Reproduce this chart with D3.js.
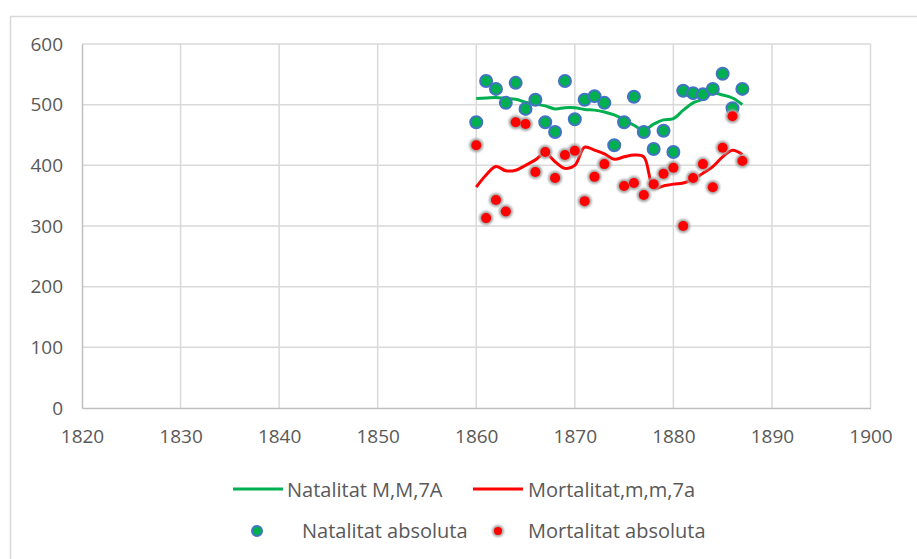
<!DOCTYPE html>
<html>
<head>
<meta charset="utf-8">
<script src="https://cdn.jsdelivr.net/npm/d3@7"></script>
<style>
  body { margin: 0; background: #fff; }
  text { font-family: "Open Sans", "Liberation Sans", sans-serif; fill: #595959; }
</style>
</head>
<body>
<script>
var w = 917
var h = 559

// data
var years = [1860, 1861, 1862, 1863, 1864, 1865, 1866, 1867, 1868, 1869,
             1870, 1871, 1872, 1873, 1874, 1875, 1876, 1877, 1878, 1879,
             1880, 1881, 1882, 1883, 1884, 1885, 1886, 1887]
var natalitat = [471, 539, 526, 503, 536, 493, 508, 471, 455, 539,
                 476, 508, 514, 503, 433, 471, 513, 455, 427, 457,
                 422, 523, 519, 517, 526, 551, 494, 526]
var mortalitat = [433, 313, 343, 324, 471, 468, 389, 422, 379, 417,
                  424, 341, 381, 402, null, 366, 371, 351, 369, 386,
                  396, 300, 379, 402, 364, 429, 481, 407]
var natalitatMM = [510, 511, 512, 510, 509, 504, 501, 498, 493, 495,
                   495, 492, 491, 488, 483, 475, 466, 458, 468, 475,
                   477, 491, 503, 509, 519, 516, 511, 500]
var mortalitatMM = [364, 384, 398, 391, 392, 400, 409, 420, 406, 395,
                    400, 430, 425, 419, 410, 414, 417, 414, 363, 366,
                    369, 371, 377, 387, 398, 414, 425, 418]
var xTicks = [1820, 1830, 1840, 1850, 1860, 1870, 1880, 1890, 1900]
var yTicks = [0, 100, 200, 300, 400, 500, 600]

var svg = d3.select("body")
            .append("svg")
            .attr("width", w)
            .attr("height", h)

// chart frame
svg.append("rect")
    .attr("x", 10.5)
    .attr("y", 16.5)
    .attr("width", w)
    .attr("height", h)
    .attr("fill", "none")
    .attr("stroke", "#d9d9d9")
    .attr("stroke-width", 1.5)

var x = d3.scaleLinear().domain([1820, 1900]).range([82, 870.5])
var y = d3.scaleLinear().domain([0, 600]).range([408, 44])

// gridlines
svg.selectAll(".vgrid")
    .data(xTicks.slice(1))
    .enter().append("line")
    .attr("x1", function(d) {return x(d)})
    .attr("x2", function(d) {return x(d)})
    .attr("y1", y(600))
    .attr("y2", y(0))
    .attr("stroke", "#d9d9d9")
    .attr("stroke-width", 1.5)

svg.selectAll(".hgrid")
    .data(yTicks.slice(1))
    .enter().append("line")
    .attr("x1", x(1820))
    .attr("x2", x(1900))
    .attr("y1", function(d) {return y(d)})
    .attr("y2", function(d) {return y(d)})
    .attr("stroke", "#d9d9d9")
    .attr("stroke-width", 1.5)

// axes
var xAxis = svg.append("g")
    .attr("transform", "translate(0," + y(0) + ")")
    .call(d3.axisBottom(x).tickValues(xTicks).tickFormat(d3.format("d")).tickSize(0).tickPadding(22))
xAxis.select(".domain").attr("stroke", "#bfbfbf").attr("stroke-width", 1.5)

var yAxis = svg.append("g")
    .attr("transform", "translate(" + x(1820) + ",0)")
    .call(d3.axisLeft(y).tickValues(yTicks).tickSize(0).tickPadding(19))
yAxis.select(".domain").attr("stroke", "#bfbfbf").attr("stroke-width", 1.5)

svg.selectAll(".tick text")
    .attr("font-size", "19px")
    .attr("fill", "#595959")
    .style("font-family", "'Open Sans', 'Liberation Sans', sans-serif")

// moving averages
var line = d3.line()
    .x(function(d) {return x(d[0])})
    .y(function(d) {return y(d[1])})
    .curve(d3.curveCatmullRom.alpha(0.5))

svg.append("path")
    .datum(d3.zip(years, natalitatMM))
    .attr("d", line)
    .attr("fill", "none")
    .attr("stroke", "#00b050")
    .attr("stroke-width", 3)

svg.append("path")
    .datum(d3.zip(years, mortalitatMM))
    .attr("d", line)
    .attr("fill", "none")
    .attr("stroke", "#ff0000")
    .attr("stroke-width", 3)

// glow for the grey-ringed markers
var defs = svg.append("defs")
var glow = defs.append("filter").attr("id", "glow")
    .attr("x", "-50%").attr("y", "-50%").attr("width", "200%").attr("height", "200%")
glow.append("feGaussianBlur").attr("stdDeviation", 1)

// absolute values
svg.selectAll(".nat")
    .data(d3.zip(years, natalitat))
    .enter().append("circle")
    .attr("cx", function(d) {return x(d[0])})
    .attr("cy", function(d) {return y(d[1])})
    .attr("r", 6)
    .attr("fill", "#00b050")
    .attr("stroke", "#4472c4")
    .attr("stroke-width", 2)

var mort = d3.zip(years, mortalitat).filter(function(d) {return d[1] !== null})

svg.selectAll(".mortHalo")
    .data(mort)
    .enter().append("circle")
    .attr("cx", function(d) {return x(d[0])})
    .attr("cy", function(d) {return y(d[1])})
    .attr("r", 7)
    .attr("fill", "#a5a5a5")
    .attr("filter", "url(#glow)")

svg.selectAll(".mort")
    .data(mort)
    .enter().append("circle")
    .attr("cx", function(d) {return x(d[0])})
    .attr("cy", function(d) {return y(d[1])})
    .attr("r", 5)
    .attr("fill", "#ff0000")

// legend
var legend = svg.append("g").attr("font-size", "20px")

legend.append("line")
    .attr("x1", 233).attr("x2", 283).attr("y1", 489).attr("y2", 489)
    .attr("stroke", "#00b050").attr("stroke-width", 3)
legend.append("text").text("Natalitat M,M,7A")
    .attr("x", 287).attr("y", 497)

legend.append("line")
    .attr("x1", 473).attr("x2", 523).attr("y1", 489).attr("y2", 489)
    .attr("stroke", "#ff0000").attr("stroke-width", 3)
legend.append("text").text("Mortalitat,m,m,7a")
    .attr("x", 528).attr("y", 497)

legend.append("circle")
    .attr("cx", 257).attr("cy", 531).attr("r", 5)
    .attr("fill", "#00b050").attr("stroke", "#4472c4").attr("stroke-width", 2)
legend.append("text").text("Natalitat absoluta")
    .attr("x", 302).attr("y", 538)

legend.append("circle")
    .attr("cx", 498).attr("cy", 531).attr("r", 6)
    .attr("fill", "#a5a5a5").attr("filter", "url(#glow)")
legend.append("circle")
    .attr("cx", 498).attr("cy", 531).attr("r", 4)
    .attr("fill", "#ff0000")
legend.append("text").text("Mortalitat absoluta")
    .attr("x", 528).attr("y", 538)
</script>
</body>
</html>
